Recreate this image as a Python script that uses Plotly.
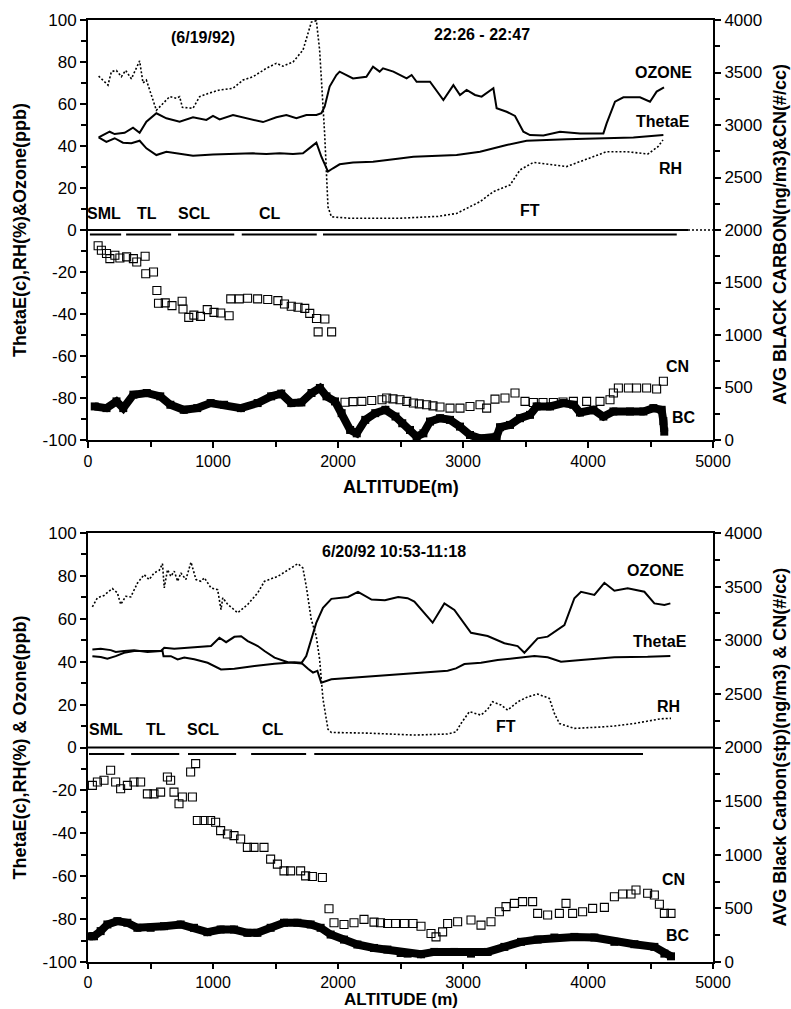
import plotly.graph_objects as go

# ---------------- DATA: top panel (6/19/92) ----------------
T_RH_ALT = [85,160,187,227,267,301,347,413,440,467,547,653,707,733,755,840,893,960,1053,1160,1240,1320,1427,1507,1560,1640,1720,1787,1827,1853,1893,1920,1947,2093,2493,2800,2949,3136,3243,3376,3456,3563,3829,4149,4309,4480,4560,4600]
T_RH = [73.3,69,75.4,76,73,76,72,80.5,70,71.4,57,63.5,62.7,63.5,58.4,58,63.5,65,66.7,67.5,71.4,73,77,79.4,78,80,85.7,99,99.7,85.7,46,11,6.3,5.6,5.6,6.5,7.9,13.5,18.3,21.4,28.6,32.2,30.2,37.3,37.3,36.2,39.7,42.9]

T_O3_ALT = [85,120,173,213,293,360,413,467,547,627,733,840,947,1000,1053,1160,1267,1400,1507,1587,1667,1747,1827,1867,1893,1933,1987,2013,2120,2227,2280,2333,2360,2443,2549,2589,2629,2736,2843,2923,2976,3029,3096,3149,3243,3269,3349,3416,3483,3536,3643,3776,3936,4123,4149,4216,4283,4416,4496,4549,4608]
T_O3 = [44.1,45.2,46.8,45.7,46.3,48.7,46.3,51.6,55.6,53.2,51.6,53.7,52.4,54.3,52.7,54.8,53.2,51.4,53.7,54.8,53.2,54.8,54.8,55.6,58.7,68.3,73.8,75.4,72.2,73,77.8,75.4,77,75.4,72.2,73.8,70.6,70.6,61.9,69,64.3,66.7,64.3,63.5,67.5,58,56.3,54.3,46.8,45.2,45,46.8,46,46,50.8,61.1,63.2,63.2,61.1,65.9,67.9]

T_TE_ALT = [85,147,213,280,347,413,467,547,627,733,840,1000,1160,1320,1427,1533,1640,1720,1787,1827,1867,1920,1960,2013,2120,2280,2493,2603,2949,3136,3349,3509,3829,4149,4363,4603]
T_TE = [44.1,42,43.7,41.6,41.3,42.5,38.9,35.7,37.3,36.5,35.4,36,36.2,36.5,36.2,36.5,36.2,36.5,39.7,41.6,34.9,27.8,29.4,31.3,32.2,32.5,34.1,34.9,35.7,37.3,40.5,42.5,43.2,43.7,44.1,45.2]

T_CN_ALT = [81,107,148,175,215,255,309,363,390,457,462,524,551,564,618,672,753,760,806,847,900,954,1008,1062,1129,1142,1210,1277,1357,1438,1519,1572,1626,1680,1734,1774,1828,1841,1895,1949,2056,2120,2191,2270,2352,2389,2440,2496,2550,2603,2650,2709,2760,2816,2896,2976,3056,3136,3189,3256,3336,3416,3496,3563,3640,3723,3800,3883,3989,4096,4176,4203,4243,4323,4389,4469,4549,4603]
T_CN = [1850,1808,1776,1728,1760,1734,1744,1728,1696,1750,1584,1600,1424,1302,1306,1280,1322,1248,1168,1190,1178,1242,1216,1210,1184,1344,1344,1350,1344,1338,1328,1296,1274,1264,1254,1206,1158,1030,1152,1030,360,366,368,376,384,400,392,384,368,352,344,336,325,314,304,304,320,336,304,390,400,448,368,358,358,358,362,368,368,368,384,448,496,496,496,496,486,560]

T_BC_ALT = [54,148,228,282,363,470,578,659,766,874,981,1089,1223,1357,1465,1546,1626,1707,1788,1855,1908,1976,2029,2097,2150,2218,2298,2379,2460,2514,2576,2629,2683,2736,2816,2896,2976,3056,3136,3216,3269,3296,3376,3456,3536,3589,3696,3803,3883,3936,4043,4123,4203,4336,4443,4523,4589,4603,4610]
T_BC = [320,304,368,304,432,448,416,336,288,304,352,336,304,352,416,442,352,358,448,496,416,368,256,96,64,192,256,288,224,160,96,32,64,176,208,192,128,48,16,16,32,122,144,208,240,320,320,352,336,262,288,224,272,272,272,304,288,180,80]

T_LAYER_START = [15, 305, 720, 1230, 1880]
T_LAYER_END = [265, 665, 1170, 1830, 4710]
T_ZERO_SOLID_END = 4800

# ---------------- DATA: bottom panel (6/20/92) ----------------
B_RH_ALT = [35,75,128,195,235,262,302,342,396,449,489,529,570,596,610,636,663,690,717,743,783,824,864,904,931,984,1037,1064,1078,1118,1198,1278,1358,1412,1519,1599,1679,1719,1746,1786,1826,1853,1880,1920,1947,2241,2508,2611,2877,2944,2984,3051,3144,3197,3237,3304,3357,3437,3517,3597,3691,3731,3771,3891,4051,4211,4371,4477,4584,4664]
B_RH = [65.6,69.8,70.9,74.1,72.1,66.7,70.5,70.2,76.7,80.6,78.3,81.4,82.6,85.7,74.4,82.9,79.8,82.2,77.5,81.4,78.3,86.4,78.3,77.5,79.1,74.4,73.6,64.3,69.8,66.7,62.8,66.7,72.1,77.5,79.8,82.9,85.7,83.7,75.2,59.7,51.9,41.1,22.5,8.5,7,6.7,6.2,5.8,6.3,7.3,11.2,16.7,15.1,17.8,21.3,19.8,17.4,21.3,23.6,24.9,22.9,15.9,11.2,8.9,9.4,10,11.2,12.4,13.4,13.6]

B_O3_ALT = [35,102,182,222,289,369,476,583,610,690,797,904,984,1051,1105,1171,1225,1278,1358,1412,1492,1599,1679,1706,1746,1786,1826,1880,1947,2080,2160,2268,2375,2481,2557,2611,2691,2757,2851,2931,3064,3197,3331,3437,3491,3597,3677,3811,3891,3944,4051,4131,4211,4317,4451,4531,4611,4659]
B_O3 = [45.7,46,45.4,44.5,45,45.3,44.5,45,46.5,46,46.5,47,47.3,51.2,49.1,51.6,51.9,49.6,47.3,45,41.9,39.8,39.5,39.2,42.6,50.4,58.1,65.1,69.3,70.2,72.6,69,68.7,70.2,69.6,68,62.6,58.2,67.2,64.1,53.5,52,48.6,47.3,44.2,50.9,51.7,57.1,69.6,72.6,71.1,76.8,73.1,74.2,72.6,67.2,66.4,67.2]

B_TE_ALT = [35,102,155,222,289,369,476,596,604,663,717,770,850,957,1064,1171,1332,1492,1653,1706,1760,1800,1835,1866,1947,2134,2294,2508,2611,2877,2944,3011,3144,3277,3411,3571,3677,3784,3944,4211,4477,4659]
B_TE = [42.6,42.2,41.4,42.6,44.2,45,45,45,42.6,42.6,41.1,41.9,41.1,39.5,36.4,36.7,38,39.1,39.8,39.5,36.7,34.9,35.7,30.2,31.8,32.6,33.3,34.1,34.6,35.8,36.9,38.9,39.5,40.8,41.6,42.7,42.1,40,40.8,42.1,42.3,42.7]

B_CN_ALT = [35,75,128,181,221,261,315,368,421,475,528,581,635,661,688,728,755,821,835,861,875,928,981,1021,1061,1115,1168,1221,1275,1328,1408,1461,1515,1568,1621,1701,1741,1795,1875,1928,1968,2048,2128,2208,2288,2340,2397,2460,2531,2600,2664,2744,2784,2837,2877,2957,3064,3144,3224,3291,3344,3411,3477,3557,3597,3677,3771,3824,3877,3957,4037,4131,4211,4277,4344,4384,4477,4531,4571,4611,4664]
B_CN = [1647,1678,1694,1788,1678,1616,1647,1678,1678,1568,1568,1584,1725,1694,1584,1475,1538,1772,1538,1850,1319,1319,1319,1303,1225,1194,1178,1147,1069,1069,1069,959,913,850,850,850,803,797,788,497,366,350,366,397,372,366,359,359,359,359,334,266,234,281,359,375,391,344,375,469,516,547,563,563,453,438,453,547,453,469,500,509,609,634,634,672,641,625,538,453,453]

B_BC_ALT = [8,48,101,155,235,315,395,501,608,741,848,955,1061,1168,1275,1355,1461,1568,1675,1781,1861,1941,2048,2155,2288,2395,2501,2557,2664,2771,2931,3064,3197,3331,3464,3597,3731,3891,4051,4211,4371,4531,4611,4664]
B_BC = [240,240,288,350,381,366,319,319,334,350,319,278,303,303,272,272,319,366,366,350,319,256,209,163,131,116,84,78,72,94,94,78,94,141,188,209,228,234,228,188,166,141,78,53]

B_LAYER_START = [8, 345, 800, 1305, 1810]
B_LAYER_END = [290, 730, 1185, 1745, 4440]

X_TICKS = [0, 1000, 2000, 3000, 4000, 5000]
LEFT_TICKS = [-100, -80, -60, -40, -20, 0, 20, 40, 60, 80, 100]
RIGHT_TICKS = [0, 500, 1000, 1500, 2000, 2500, 3000, 3500, 4000]

# ---------------- FIGURE ----------------
FONT = "Liberation Sans, Arial, Helvetica, sans-serif"
BLK = "black"

fig = go.Figure()


def line(x, y, xa, ya, dash="solid", width=2.0):
    fig.add_trace(go.Scatter(x=x, y=y, xaxis=xa, yaxis=ya, mode="lines",
                             line=dict(color=BLK, width=width, dash=dash),
                             showlegend=False, hoverinfo="skip"))


def cn(x, y, xa, ya):
    fig.add_trace(go.Scatter(x=x, y=y, xaxis=xa, yaxis=ya, mode="markers",
                             marker=dict(symbol="square-open", size=8, color=BLK,
                                         line=dict(width=1.1, color=BLK)),
                             showlegend=False, hoverinfo="skip"))


def bc(x, y, xa, ya):
    fig.add_trace(go.Scatter(x=x, y=y, xaxis=xa, yaxis=ya, mode="lines+markers",
                             line=dict(color=BLK, width=8),
                             marker=dict(symbol="square", size=8, color=BLK),
                             showlegend=False, hoverinfo="skip"))


def segs(starts, ends, level):
    xs, ys = [], []
    for s, e in zip(starts, ends):
        xs += [s, e, None]
        ys += [level, level, None]
    return xs, ys


# top panel
line(T_O3_ALT, T_O3, "x", "y")
line(T_TE_ALT, T_TE, "x", "y")
line(T_RH_ALT, T_RH, "x", "y", dash="2px,2px", width=1.6)
line([0, T_ZERO_SOLID_END], [0, 0], "x", "y", width=2.2)
line([T_ZERO_SOLID_END, 5000], [0, 0], "x", "y", dash="2px,2px", width=1.6)
sx, sy = segs(T_LAYER_START, T_LAYER_END, -2.1)
line(sx, sy, "x", "y", width=2)
cn(T_CN_ALT, T_CN, "x", "y2")
bc(T_BC_ALT, T_BC, "x", "y2")

# bottom panel
line(B_O3_ALT, B_O3, "x2", "y3")
line(B_TE_ALT, B_TE, "x2", "y3")
line(B_RH_ALT, B_RH, "x2", "y3", dash="2px,2px", width=1.6)
line([0, 5000], [0, 0], "x2", "y3", width=2.2)
sx, sy = segs(B_LAYER_START, B_LAYER_END, -3.0)
line(sx, sy, "x2", "y3", width=2)
cn(B_CN_ALT, B_CN, "x2", "y4")
bc(B_BC_ALT, B_BC, "x2", "y4")

tickfont = dict(family=FONT, size=17, color=BLK)
xtickfont = dict(family=FONT, size=16, color=BLK)


def xax(anchor, tlen=6):
    return dict(domain=[0, 1], anchor=anchor, range=[0, 5000],
                tickmode="array", tickvals=X_TICKS, ticktext=[str(v) for v in X_TICKS],
                ticks="outside", ticklen=tlen, tickwidth=2, tickcolor=BLK,
                minor=dict(dtick=500, tick0=0, ticks="outside", ticklen=5, tickwidth=1.5, tickcolor=BLK),
                showline=True, linewidth=2, linecolor=BLK, mirror=True,
                showgrid=False, zeroline=False, tickfont=xtickfont)


def yleft(domain, anchor):
    return dict(domain=domain, anchor=anchor, range=[-100, 100],
                tickmode="array", tickvals=LEFT_TICKS, ticktext=[str(v) for v in LEFT_TICKS],
                ticks="outside", ticklen=6, tickwidth=2, tickcolor=BLK,
                minor=dict(dtick=10, tick0=0, ticks="outside", ticklen=5, tickwidth=1.5, tickcolor=BLK),
                showline=True, linewidth=2, linecolor=BLK,
                showgrid=False, zeroline=False, tickfont=tickfont)


def yright(over, anchor):
    return dict(overlaying=over, anchor=anchor, side="right", range=[0, 4000],
                tickmode="array", tickvals=RIGHT_TICKS, ticktext=[str(v) for v in RIGHT_TICKS],
                ticks="outside", ticklen=6, tickwidth=2, tickcolor=BLK,
                minor=dict(dtick=250, tick0=0, ticks="outside", ticklen=5, tickwidth=1.5, tickcolor=BLK),
                showline=True, linewidth=2, linecolor=BLK,
                showgrid=False, zeroline=False, tickfont=tickfont)


TOP_DOM = [0.5541, 1.0]
BOT_DOM = [0.0, 0.4554]

fig.update_layout(
    width=791, height=1009,
    margin=dict(l=88, r=78, t=20, b=47),
    paper_bgcolor="white", plot_bgcolor="white",
    font=dict(family=FONT, color=BLK),
    xaxis=xax("y"), xaxis2=xax("y3", tlen=5),
    yaxis=yleft(TOP_DOM, "x"), yaxis2=yright("y", "x"),
    yaxis3=yleft(BOT_DOM, "x2"), yaxis4=yright("y3", "x2"),
    showlegend=False,
)

bold16 = dict(family=FONT, size=16, color=BLK, weight="bold")
bold17 = dict(family=FONT, size=17, color=BLK, weight="bold")
bold18 = dict(family=FONT, size=18, color=BLK, weight="bold")

ann = []


def txt(x, y, s, xr, yr, font=bold16, xanchor="center"):
    ann.append(dict(x=x, y=y, xref=xr, yref=yr, text=s, showarrow=False,
                    font=font, xanchor=xanchor, yanchor="middle"))


# top panel labels
txt(920, 91.9, "(6/19/92)", "x", "y")
txt(3152, 92.9, "22:26 - 22:47", "x", "y")
txt(4600, 75.2, "OZONE", "x", "y")
txt(4600, 51.9, "ThetaE", "x", "y")
txt(4656, 29.5, "RH", "x", "y")
txt(3536, 9.5, "FT", "x", "y")
txt(128, 8.1, "SML", "x", "y")
txt(472, 8.1, "TL", "x", "y")
txt(848, 8.1, "SCL", "x", "y")
txt(1456, 8.1, "CL", "x", "y")
txt(4712, 700, "CN", "x", "y2")
txt(4768, 215, "BC", "x", "y2")

# bottom panel labels
txt(2448, 91.6, "6/20/92 10:53-11:18", "x2", "y3")
txt(4536, 82.3, "OZONE", "x2", "y3")
txt(4576, 49.2, "ThetaE", "x2", "y3")
txt(4640, 19.3, "RH", "x2", "y3")
txt(3344, 10.0, "FT", "x2", "y3")
txt(144, 8.6, "SML", "x2", "y3")
txt(544, 8.6, "TL", "x2", "y3")
txt(920, 8.6, "SCL", "x2", "y3")
txt(1480, 8.6, "CL", "x2", "y3")
txt(4680, 765, "CN", "x2", "y4")
txt(4720, 250, "BC", "x2", "y4")


# axis titles
def vtitle(x, y, s):
    ann.append(dict(x=x, y=y, xref="paper", yref="paper", text=s, showarrow=False,
                    font=bold18, textangle=-90, xanchor="center", yanchor="middle"))


vtitle(-0.1088, 0.777, "ThetaE(c),RH(%)&Ozone(ppb)")
vtitle(1.1072, 0.772, "AVG BLACK CARBON(ng/m3)&CN(#/cc)")
vtitle(-0.1088, 0.2277, "ThetaE(c),RH(%) & Ozone(ppb)")
vtitle(1.1072, 0.2277, "AVG Black Carbon(stp)(ng/m3) & CN(#/cc)")

ann.append(dict(x=0.5, y=0.5042, xref="paper", yref="paper", text="ALTITUDE(m)",
                showarrow=False, font=bold18, xanchor="center", yanchor="middle"))
ann.append(dict(x=0.5, y=-0.0403, xref="paper", yref="paper", text="ALTITUDE (m)",
                showarrow=False, font=bold17, xanchor="center", yanchor="middle"))

fig.update_layout(annotations=ann)

fig.write_html("out.html", config={"displayModeBar": False},
               post_script="document.body.style.margin='0px';document.body.style.padding='0px';document.body.style.overflow='hidden';")
